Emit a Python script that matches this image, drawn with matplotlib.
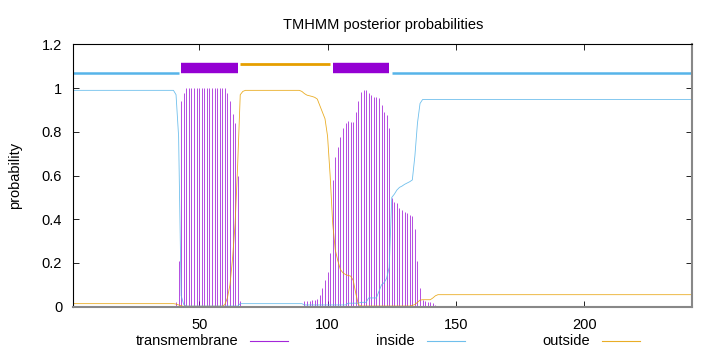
import numpy as np
import matplotlib
matplotlib.use("Agg")
import matplotlib.pyplot as plt
from matplotlib.lines import Line2D

plt.rcParams['font.family'] = ['Liberation Sans', 'DejaVu Sans']
plt.rcParams['font.size'] = 10.5

# residue numbers 1..242
residues = np.arange(1, 243)

# TM probability (impulses)
tm = ([0.0] * 39
      + [0.005, 0.02, 0.21, 0.94, 0.98]
      + [1.0] * 16
      + [0.98, 0.94, 0.88, 0.84, 0.60, 0.025, 0.005]
      + [0.0] * 23
      + [0.024, 0.026, 0.028, 0.03, 0.03, 0.035, 0.055, 0.085, 0.12, 0.157,
         0.245, 0.58, 0.686, 0.73, 0.775, 0.816, 0.839, 0.849, 0.845, 0.845,
         0.89, 0.94, 0.983, 0.99, 0.99, 0.98, 0.968, 0.96, 0.96, 0.953,
         0.922, 0.89, 0.877, 0.82, 0.496, 0.48, 0.473, 0.45, 0.443, 0.435,
         0.43, 0.42, 0.415, 0.355, 0.207, 0.085, 0.03, 0.025, 0.022, 0.02,
         0.015, 0.01]
      + [0.0] * 100)

# inside probability
inside = ([0.99] * 40
          + [0.97, 0.78, 0.05, 0.01]
          + [0.003] * 21
          + [0.014] * 25
          + [0.008] * 17
          + [0.016] * 5
          + [0.02] * 3
          + [0.04] * 4
          + [0.07, 0.10, 0.11, 0.13, 0.18]
          + [0.50, 0.515, 0.534, 0.546, 0.552, 0.56, 0.566, 0.572, 0.58, 0.69, 0.84, 0.93]
          + [0.948] * 106)

# outside probability
outside = ([0.014] * 40
           + [0.012, 0.008, 0.004]
           + [0.002] * 16
           + [0.01, 0.04, 0.10, 0.22, 0.38, 0.65, 0.97, 0.985]
           + [0.99] * 22
           + [0.985, 0.975, 0.968, 0.965, 0.962, 0.958, 0.95, 0.92, 0.89, 0.86,
              0.78, 0.60, 0.38, 0.26, 0.21, 0.17, 0.155, 0.147, 0.143, 0.14,
              0.12, 0.06, 0.01]
           + [0.003] * 20
           + [0.006, 0.01, 0.02, 0.03]
           + [0.032] * 4
           + [0.04, 0.05]
           + [0.055] * 100)

# predicted topology
seg_start = [1, 43, 66, 102, 125]
seg_end = [42, 65, 101, 124, 242]
seg_kind = ['inside', 'TM', 'outside', 'TM', 'inside']

c_tm = '#9400d3'
c_in = '#56b4e9'
c_out = '#e69f00'

fig = plt.figure(figsize=(7.2, 3.52), dpi=100)
ax = fig.add_axes([0.1018, 0.1287, 0.8597, 0.745])

ax.vlines(residues, 0, tm, color=c_tm, lw=0.7, alpha=0.7)
ax.plot(residues, inside, color=c_in, lw=0.6, alpha=0.85)
ax.plot(residues, outside, color=c_out, lw=0.6, alpha=0.85)

# topology bars on top
for s, e, k in zip(seg_start, seg_end, seg_kind):
    if k == 'TM':
        ax.plot([s, e], [1.09, 1.09], color=c_tm, lw=7.5, solid_capstyle='butt')
    elif k == 'inside':
        ax.plot([s, e], [1.07, 1.07], color=c_in, lw=1.8, solid_capstyle='butt')
    else:
        ax.plot([s, e], [1.11, 1.11], color=c_out, lw=2.0, solid_capstyle='butt')

ax.set_xlim(1, 242)
ax.set_ylim(0, 1.2)
ax.set_xticks([50, 100, 150, 200])
ax.set_yticks([0, 0.2, 0.4, 0.6, 0.8, 1.0, 1.2])
ax.set_yticklabels(['0', '0.2', '0.4', '0.6', '0.8', '1', '1.2'])
ax.tick_params(direction='in', length=4, width=0.6, top=True, right=True,
               labelsize=10.5, pad=8, colors='black')
for sp in ax.spines.values():
    sp.set_linewidth(0.8)
ax.spines['right'].set_color('#888888')
ax.spines['right'].set_linewidth(1.5)
ax.spines['bottom'].set_color('#888888')
ax.spines['bottom'].set_linewidth(1.5)

ax.set_title('TMHMM posterior probabilities', fontsize=10.5, pad=11)
ax.set_ylabel('probability', fontsize=10.5, labelpad=14)

# legend in gnuplot style: text then a sample line
leg_names = ['transmembrane', 'inside', 'outside']
leg_colors = [c_tm, c_in, c_out]
leg_text_x = [238, 415, 590]
for name, col, tx in zip(leg_names, leg_colors, leg_text_x):
    fig.text(tx / 720, 1 - 341 / 352, name, ha='right', va='center', fontsize=10.5)
    fig.add_artist(Line2D([(tx + 12) / 720, (tx + 50) / 720],
                          [1 - 341 / 352, 1 - 341 / 352], color=col, lw=0.8, alpha=0.85))

fig.savefig('out.png', dpi=100)
